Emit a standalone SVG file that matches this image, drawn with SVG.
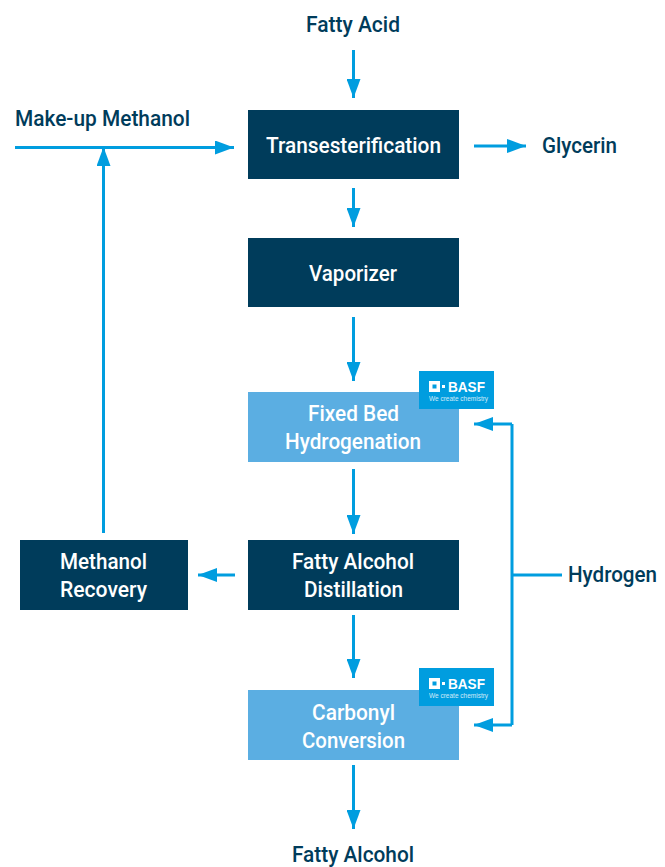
<svg xmlns="http://www.w3.org/2000/svg" width="665" height="867" viewBox="0 0 665 867">
<defs><marker id="a" markerUnits="userSpaceOnUse" markerWidth="20" markerHeight="14" refX="19" refY="7" orient="auto"><path d="M0 0L19 7L0 14Z" fill="#009ddf"/></marker>
<g id="logo"><rect width="75" height="38" fill="#009ddf"/><rect x="10" y="10" width="11" height="11" fill="#fff"/><rect x="13.500" y="13.500" width="4" height="4" fill="#009ddf"/><rect x="23" y="14" width="3" height="3" fill="#fff"/><text x="29" y="21" class="b" textLength="37" lengthAdjust="spacingAndGlyphs">BASF</text><text x="10" y="29.500" class="w">We create chemistry</text></g></defs>
<style>
.t{font-family:Roboto,"Liberation Sans",Arial,sans-serif;font-size:22px;font-weight:500;text-anchor:middle;fill:#fff}
.o{fill:#003c5b}
.d{fill:#003c5b}.l{fill:#5baee2}
.c{fill:none;stroke:#009ddf;stroke-width:3}
.b{font-family:"Liberation Sans",Arial,sans-serif;font-size:14px;font-weight:700;fill:#fff}
.w{font-family:"Liberation Sans",Arial,sans-serif;font-size:6.500px;fill:#fff;opacity:.8}
</style>
<rect width="665" height="867" fill="#fff"/>
<g id="connectors">
<path class="c" marker-end="url(#a)" d="M353.500 50V98"/>
<path class="c" marker-end="url(#a)" d="M15 147.500H234"/>
<path class="c" marker-end="url(#a)" d="M103.500 533V147"/>
<path class="c" marker-end="url(#a)" d="M474 146H526"/>
<path class="c" marker-end="url(#a)" d="M353.500 188V227"/>
<path class="c" marker-end="url(#a)" d="M353.500 317V381"/>
<path class="c" marker-end="url(#a)" d="M353.500 469V534"/>
<path class="c" marker-end="url(#a)" d="M235 575H198"/>
<path class="c" marker-end="url(#a)" d="M353.500 615V678"/>
<path class="c" marker-end="url(#a)" d="M353.500 765V829"/>
<path class="c" marker-end="url(#a)" d="M512 424H474"/>
<path class="c" marker-end="url(#a)" d="M512 725H474"/>
<path class="c" d="M512 424V725M512 575H562"/>
</g>
<g id="fatty-acid"><text class="t o" x="353" y="32" textLength="94" lengthAdjust="spacingAndGlyphs">Fatty Acid</text></g>
<g id="make-up"><text class="t o" x="102.500" y="126" textLength="175" lengthAdjust="spacingAndGlyphs">Make-up Methanol</text></g>
<g id="glycerin"><text class="t o" x="579.500" y="153" textLength="75" lengthAdjust="spacingAndGlyphs">Glycerin</text></g>
<g id="hydrogen"><text class="t o" x="612.500" y="582" textLength="89" lengthAdjust="spacingAndGlyphs">Hydrogen</text></g>
<g id="fatty-alcohol"><text class="t o" x="353" y="862" textLength="122" lengthAdjust="spacingAndGlyphs">Fatty Alcohol</text></g>
<g id="transesterification"><rect class="d" x="248" y="110" width="211" height="69"/><text class="t" x="353.500" y="153" textLength="175" lengthAdjust="spacingAndGlyphs">Transesterification</text></g>
<g id="vaporizer"><rect class="d" x="248" y="238" width="211" height="69"/><text class="t" x="353" y="281" textLength="88" lengthAdjust="spacingAndGlyphs">Vaporizer</text></g>
<g id="fixed-bed"><rect class="l" x="248" y="392" width="211" height="70"/><text class="t" x="353.500" y="421" textLength="91" lengthAdjust="spacingAndGlyphs">Fixed Bed</text><text class="t" x="353" y="449" textLength="136" lengthAdjust="spacingAndGlyphs">Hydrogenation</text><use href="#logo" x="419" y="371"/></g>
<g id="distillation"><rect class="d" x="248" y="540" width="211" height="70"/><text class="t" x="353" y="569" textLength="122" lengthAdjust="spacingAndGlyphs">Fatty Alcohol</text><text class="t" x="353.500" y="597" textLength="99" lengthAdjust="spacingAndGlyphs">Distillation</text></g>
<g id="recovery"><rect class="d" x="20" y="540" width="168" height="70"/><text class="t" x="103.500" y="569" textLength="87" lengthAdjust="spacingAndGlyphs">Methanol</text><text class="t" x="103.500" y="597" textLength="87" lengthAdjust="spacingAndGlyphs">Recovery</text></g>
<g id="carbonyl"><rect class="l" x="248" y="690" width="211" height="70"/><text class="t" x="353.500" y="720" textLength="83" lengthAdjust="spacingAndGlyphs">Carbonyl</text><text class="t" x="353.500" y="748" textLength="103" lengthAdjust="spacingAndGlyphs">Conversion</text><use href="#logo" x="419" y="668"/></g>
</svg>
